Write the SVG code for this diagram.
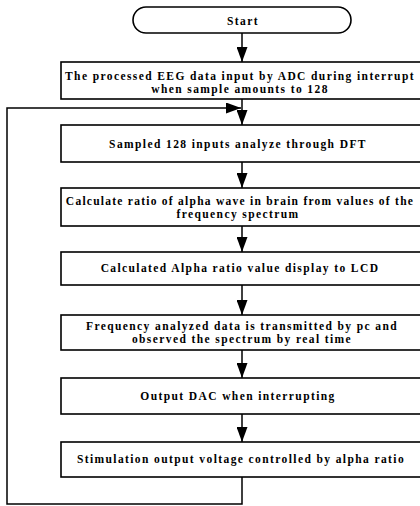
<svg xmlns="http://www.w3.org/2000/svg" width="420" height="506" viewBox="0 0 420 506">
<style>
.box{fill:#fff;stroke:#000;stroke-width:1.6}
.t{font-family:"Liberation Serif","Times New Roman",serif;font-weight:bold;font-size:11.5px;letter-spacing:1.4px;text-anchor:middle;fill:#000}
.c{fill:none;stroke:#000;stroke-width:1.5}
</style>
<defs>
<marker id="ah" viewBox="0 0 15 11" refX="15" refY="5.5" markerWidth="15" markerHeight="11" markerUnits="userSpaceOnUse" orient="auto">
<path d="M0,0 L15,5.5 L0,11 z" fill="#000"/>
</marker>
</defs>
<rect width="420" height="506" fill="#fff"/>
<g id="connectors">
<path class="c" d="M242,33 V62" marker-end="url(#ah)"/>
<path class="c" d="M242,99 V125" marker-end="url(#ah)"/>
<path class="c" d="M242,162 V188" marker-end="url(#ah)"/>
<path class="c" d="M242,226 V252" marker-end="url(#ah)"/>
<path class="c" d="M242,285 V315" marker-end="url(#ah)"/>
<path class="c" d="M242,350 V378" marker-end="url(#ah)"/>
<path class="c" d="M242,414 V442" marker-end="url(#ah)"/>
<path class="c" d="M242,477 V504 H7 V108 H241" marker-end="url(#ah)"/>
</g>
<g id="start">
<rect class="box" x="133" y="7" width="218" height="26" rx="13" ry="13"/>
<text class="t" x="243" y="25" font-size="12">Start</text>
</g>
<g id="n1">
<rect class="box" x="61" y="62" width="370" height="37"/>
<text class="t" x="240" y="80">The processed EEG data input by ADC during interrupt</text>
<text class="t" x="240" y="93">when sample amounts to 128</text>
</g>
<g id="n2">
<rect class="box" x="61" y="125" width="370" height="37"/>
<text class="t" x="238" y="148">Sampled 128 inputs analyze through DFT</text>
</g>
<g id="n3">
<rect class="box" x="61" y="188" width="370" height="38"/>
<text class="t" x="240" y="205" style="letter-spacing:1.25px">Calculate ratio of alpha wave in brain from values of the</text>
<text class="t" x="238" y="218">frequency spectrum</text>
</g>
<g id="n4">
<rect class="box" x="61" y="252" width="370" height="33"/>
<text class="t" x="240" y="272">Calculated Alpha ratio value display to LCD</text>
</g>
<g id="n5">
<rect class="box" x="61" y="315" width="370" height="35"/>
<text class="t" x="242" y="330">Frequency analyzed data is transmitted by pc and</text>
<text class="t" x="242" y="343">observed the spectrum by real time</text>
</g>
<g id="n6">
<rect class="box" x="61" y="378" width="370" height="36"/>
<text class="t" x="238" y="400">Output DAC when interrupting</text>
</g>
<g id="n7">
<rect class="box" x="61" y="442" width="370" height="35"/>
<text class="t" x="241" y="463">Stimulation output voltage controlled by alpha ratio</text>
</g>
</svg>
